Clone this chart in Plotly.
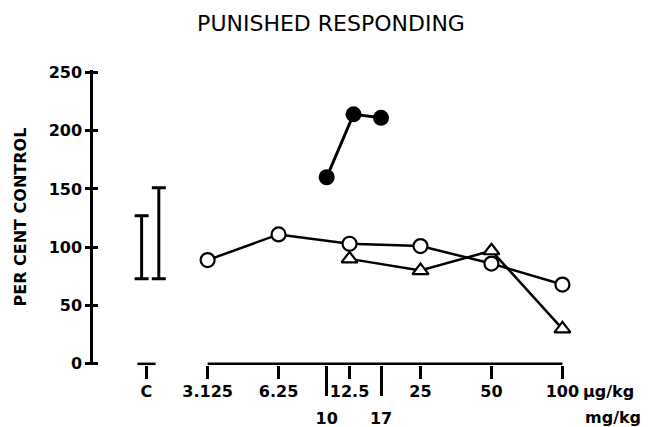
import math
import plotly.graph_objects as go

# ---- data ----
dose_ug = [3.125, 6.25, 12.5, 25, 50, 100]
dose_ug_labels = ["3.125", "6.25", "12.5", "25", "50", "100"]

circle_doses = [3.125, 6.25, 12.5, 25, 50, 100]
circle_pct = [89, 111, 103, 101, 86, 68]

triangle_doses = [12.5, 25, 50, 100]
triangle_pct = [90, 80, 97, 30]

filled_doses_mg = [10, 13, 17]
filled_pct = [160, 214, 211]

mg_ticks = [10, 17]
mg_tick_labels = ["10", "17"]

control_label = "C"
control_x = 1.72
control_bar_x = [1.64, 1.94]
control_low = [73, 73]
control_high = [127, 151]

y_ticks = [0, 50, 100, 150, 200, 250]

FONT = "DejaVu Sans"
BLACK = "black"
x_range = [math.log10(1.02), math.log10(112)]
y_range = [-1, 252]
L, R, T, B = 93, 75, 70, 62
PW = 649 - L - R
PH = 427 - T - B
TICKLEN = 13

fig = go.Figure()

# x-axis baseline spanning the dose ticks
fig.add_trace(go.Scatter(
    x=[dose_ug[0], dose_ug[-1]], y=[0, 0], mode="lines",
    line=dict(color=BLACK, width=2.5), hoverinfo="skip", showlegend=False))

# control tick cap
fig.add_trace(go.Scatter(
    x=[control_x], y=[0], mode="markers", cliponaxis=False,
    marker=dict(symbol="line-ew", size=13, line=dict(color=BLACK, width=2.5)),
    hoverinfo="skip", showlegend=False))

# control variability bars
mid = [(lo + hi) / 2 for lo, hi in zip(control_low, control_high)]
half = [(hi - lo) / 2 for lo, hi in zip(control_low, control_high)]
fig.add_trace(go.Scatter(
    x=control_bar_x, y=mid, mode="markers",
    marker=dict(size=1, color="rgba(0,0,0,0)"),
    error_y=dict(type="data", array=half, symmetric=True, color=BLACK,
                 thickness=3, width=7),
    hoverinfo="skip", showlegend=False))

# triangles
fig.add_trace(go.Scatter(
    x=triangle_doses, y=triangle_pct, mode="lines+markers",
    line=dict(color=BLACK, width=2.5),
    marker=dict(symbol="triangle-up", size=14, color="white",
                line=dict(color=BLACK, width=2.2)),
    showlegend=False))

# open circles
fig.add_trace(go.Scatter(
    x=circle_doses, y=circle_pct, mode="lines+markers",
    line=dict(color=BLACK, width=2.5),
    marker=dict(symbol="circle", size=14, color="white",
                line=dict(color=BLACK, width=2.2)),
    showlegend=False))

# filled circles (mg/kg)
fig.add_trace(go.Scatter(
    x=filled_doses_mg, y=filled_pct, mode="lines+markers",
    line=dict(color=BLACK, width=3),
    marker=dict(symbol="circle", size=16, color=BLACK),
    showlegend=False))

# helper trace for overlay axes
fig.add_trace(go.Scatter(
    x=mg_ticks, y=[None, None], xaxis="x2", yaxis="y2", mode="markers",
    hoverinfo="skip", showlegend=False))

tick_font = dict(family=FONT, size=16, color=BLACK, weight="bold")

fig.update_layout(
    width=649, height=427,
    margin=dict(l=L, r=R, t=T, b=B, autoexpand=False),
    paper_bgcolor="white", plot_bgcolor="white",
    title=dict(text="PUNISHED RESPONDING", x=331 / 649, xref="container",
               xanchor="center", y=1 - 23 / 427, yref="container",
               yanchor="middle", automargin=False,
               font=dict(family=FONT, size=22, color=BLACK)),
    xaxis=dict(type="log", range=x_range, showline=False, showgrid=False,
               zeroline=False, ticks="outside", ticklen=TICKLEN, tickwidth=2.5,
               tickcolor=BLACK, tickvals=[control_x] + dose_ug,
               ticktext=[control_label] + dose_ug_labels, tickfont=tick_font,
               ticklabelstandoff=-1, automargin=False),
    xaxis2=dict(type="log", range=x_range, overlaying="x", anchor="y",
                side="bottom", showline=False, showgrid=False, zeroline=False,
                ticks="outside", ticklen=30, tickwidth=2.5, tickcolor=BLACK,
                tickvals=mg_ticks, ticktext=mg_tick_labels, tickfont=tick_font,
                ticklabelstandoff=9, automargin=False),
    yaxis=dict(range=y_range, showline=True, linewidth=2.5, linecolor=BLACK,
               showgrid=False, zeroline=False, ticks="outside", ticklen=5,
               tickwidth=2.5, tickcolor=BLACK, tickvals=y_ticks,
               tickfont=tick_font, automargin=False),
    yaxis2=dict(range=y_range, overlaying="y", anchor="x", side="left",
                showline=False, showgrid=False, zeroline=False,
                ticks="inside", ticklen=5, tickwidth=2.5, tickcolor=BLACK,
                tickvals=y_ticks, showticklabels=False, automargin=False),
    annotations=[
        dict(text="PER CENT CONTROL", textangle=-90, xref="paper", yref="paper",
             x=(20 - L) / PW, y=0.5, xanchor="center", yanchor="middle",
             showarrow=False, font=dict(family=FONT, size=16, color=BLACK,
                                        weight="bold")),
        dict(text="µg/kg", xref="paper", yref="paper", x=(581 - L) / PW,
             y=(364.2 - 391) / PH, xanchor="left", yanchor="middle",
             showarrow=False, font=tick_font),
        dict(text="mg/kg", xref="paper", yref="paper", x=(583 - L) / PW,
             y=(364.2 - 417) / PH, xanchor="left", yanchor="middle",
             showarrow=False, font=tick_font),
    ],
)

fig.write_html(
    "out.html",
    config={"displayModeBar": False},
    post_script="document.body.style.margin='0';"
                "document.body.style.overflow='hidden';",
)
